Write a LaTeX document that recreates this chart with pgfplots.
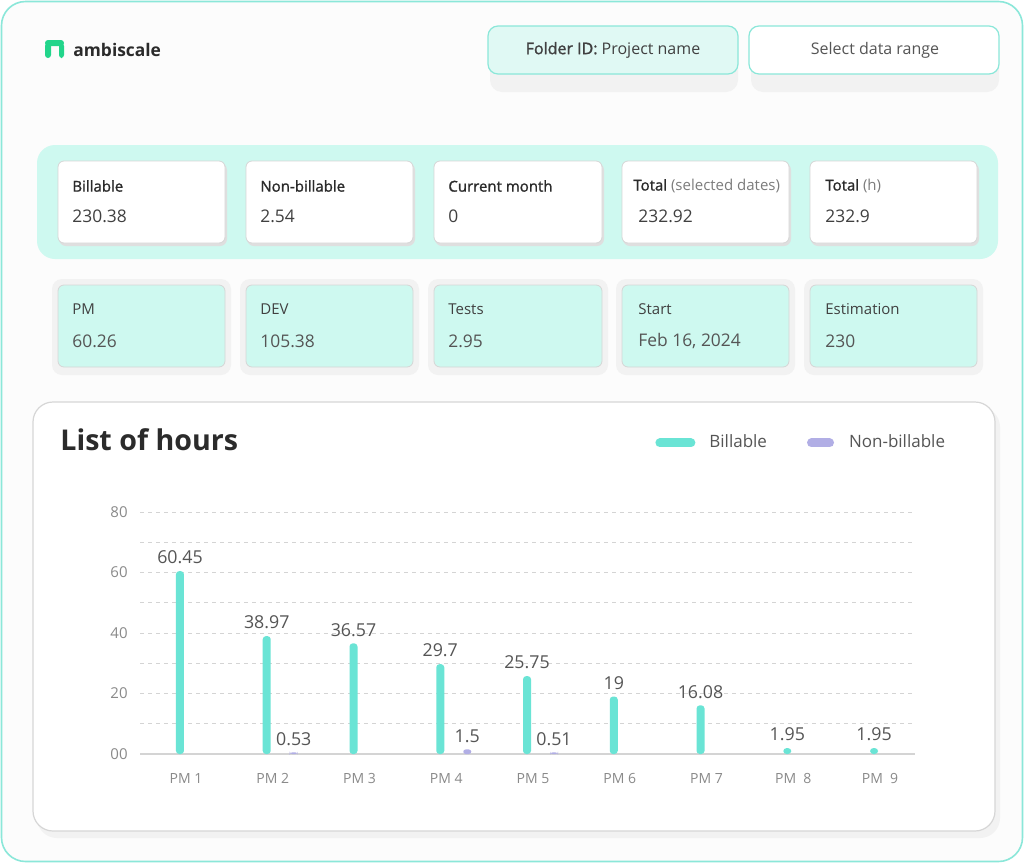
\documentclass[border=0pt]{standalone}
\usepackage{fontspec}
\setmainfont{Open Sans}
\newfontfamily\semib{Open Sans}[FakeBold=1.3]
\usepackage{pgfplots}
\pgfplotsset{compat=1.18}

\definecolor{barTeal}{HTML}{6AE4D5}
\definecolor{barLav}{HTML}{B1AEE5}
\definecolor{mint}{HTML}{CEF9F0}
\definecolor{btnMint}{HTML}{E0F9F4}
\definecolor{frameTeal}{HTML}{8BE7D9}
\definecolor{logoGreen}{HTML}{22D58B}
\definecolor{ink}{HTML}{2B2B2B}
\definecolor{ink2}{HTML}{404040}
\definecolor{ink3}{HTML}{555555}
\definecolor{tickGray}{HTML}{8A8A8A}
\definecolor{cardLine}{HTML}{D6D6D6}
\definecolor{shadowGray}{HTML}{F2F2F2}
\definecolor{gridGray}{HTML}{D4D4D4}

\newcommand\fs[1]{\fontsize{#1}{#1}\selectfont}

% white card of the first row: x1, x2, label x, value x, label, value
\newcommand\topcard[6]{%
  \fill[shadowGray!80!gray!90, rounded corners=3.5pt] (#1+1,163) rectangle (#2+2,246);
  \draw[cardLine, fill=white, line width=0.4pt, rounded corners=3pt] (#1,161) rectangle (#2,243);
  \node[anchor=west, inner sep=0pt, text=ink, font=\fs{7.5}] at (#3,186) {#5};
  \node[anchor=west, inner sep=0pt, text=ink2, font=\fs{8.7}] at (#4,216) {#6};
}
% mint card of the second row
\newcommand\lowcard[6]{%
  \fill[shadowGray, rounded corners=5pt] (#1-6,279) rectangle (#2+6,375);
  \draw[cardLine, fill=mint, line width=0.4pt, rounded corners=3pt] (#1,285) rectangle (#2,367);
  \node[anchor=west, inner sep=0pt, text=ink2, font=\fs{7.5}] at (#3,309) {#5};
  \node[anchor=west, inner sep=0pt, text=ink3, font=\fs{8.7}] at (#4,341) {#6};
}

\begin{document}
\begin{tikzpicture}
\path[use as bounding box] (0pt,0pt) rectangle (512pt,-431.5pt);
\begin{scope}[x=0.5pt,y=-0.5pt]
  \fill[white] (0,0) rectangle (1024,863);
  \draw[frameTeal, line width=0.8pt, fill=white!98!gray, rounded corners=12pt] (1.5,1.5) rectangle (1022.5,861.5);

  % logo
  \fill[logoGreen, rounded corners=1.5pt] (45,43) rectangle (51,58);
  \fill[logoGreen, rounded corners=1.5pt] (45,40) rectangle (64,46);
  \fill[logoGreen, rounded corners=1.5pt] (59,43) rectangle (64,58);
  \node[anchor=west, inner sep=0pt, font=\fs{8.7}\bfseries, text=ink] at (73,50) {ambiscale};

  % header buttons
  \fill[shadowGray, rounded corners=6pt] (490,36) rectangle (738,92);
  \draw[frameTeal, fill=btnMint, line width=0.6pt, rounded corners=5pt] (488,26) rectangle (738,74);
  \node[font=\fs{8}, text=ink2] at (613,50) {{\semib Folder ID:} Project name};
  \fill[shadowGray, rounded corners=6pt] (751,36) rectangle (999,92);
  \draw[frameTeal, fill=white, line width=0.6pt, rounded corners=5pt] (749,26) rectangle (999,74);
  \node[font=\fs{8}, text=ink3] at (875,50) {Select data range};

  % first row
  \fill[mint, rounded corners=9pt] (37,145) rectangle (998,259);
  \topcard{58}{225}{72}{72}{\semib Billable}{230.38}
  \topcard{246}{413}{260}{260}{\semib Non-billable}{2.54}
  \topcard{434}{602}{448}{448}{\semib Current month}{0}
  \topcard{622}{789}{633}{638}{{\semib Total} {\color{tickGray!90!black}(selected dates)}}{232.92}
  \topcard{810}{977}{825}{825}{{\semib Total} {\color{tickGray!90!black}(h)}}{232.9}

  % second row
  \lowcard{58}{225}{72}{72}{PM}{60.26}
  \lowcard{246}{413}{260}{260}{DEV}{105.38}
  \lowcard{434}{602}{448}{448}{Tests}{2.95}
  \lowcard{622}{789}{638}{638}{Start}{Feb 16, 2024}
  \lowcard{810}{977}{825}{825}{Estimation}{230}

  % chart card
  \fill[shadowGray, rounded corners=10pt] (37,407) rectangle (1000,838);
  \draw[cardLine, fill=white, line width=0.6pt, rounded corners=10pt] (33,402) rectangle (995,831);
  \node[anchor=west, inner sep=0pt, font=\fs{14.3}\bfseries, text=ink] at (60,440) {List of hours};
\end{scope}

\begin{axis}[
  at={(70pt,-377pt)}, anchor=south west,
  scale only axis, width=387.5pt, height=121pt,
  xmin=0.47, xmax=9.403, ymin=0, ymax=80,
  clip=false,
  axis x line*=bottom, axis y line*=left,
  y axis line style={draw=none},
  x axis line style={draw=gridGray, line width=0.6pt},
  major tick length=0pt, minor tick length=0pt,
  xtick={1,...,9},
  xticklabels={PM 1,PM 2,PM 3,PM 4,PM 5,PM 6,PM 7,PM\ \ 8,PM\ \ 9},
  ytick={0,20,40,60,80}, yticklabels={00,20,40,60,80},
  minor ytick={10,30,50,70},
  ymajorgrids, yminorgrids,
  major grid style={gridGray, line width=0.5pt, dash pattern=on 2pt off 2pt},
  minor grid style={gridGray, line width=0.5pt, dash pattern=on 2pt off 2pt},
  xticklabel style={font=\fs{7}, text=tickGray, anchor=base, inner sep=0pt, yshift=-14.5pt},
  yticklabel style={font=\fs{7.5}, text=tickGray, anchor=east, inner sep=0pt, xshift=-6pt},
  point meta=explicit symbolic,
  nodes near coords,
  every node near coord/.append style={font=\fs{8.9}, text=ink3, inner sep=0pt, anchor=south, yshift=3.3pt},
  legend style={at={(rel axis cs:0.6645,1.2852)}, anchor=west, draw=none, fill=none,
    font=\fs{8.5}, text=ink3, inner sep=0pt, nodes={inner sep=0pt},
    /tikz/every even column/.append style={column sep=20pt}},
  legend columns=2,
]
\addplot[ybar, bar width=4pt, bar shift=-3pt, fill=barTeal, draw=none, rounded corners=1.6pt,
  every node near coord/.append style={xshift=-3pt},
  legend image code/.code={
    \draw[barTeal, line width=4.5pt, line cap=round] (2.25pt,0pt) -- (17.75pt,0pt);
    \path[draw=none, fill=none] (0pt,-1pt) rectangle (27pt,1pt);}]
  coordinates {(1,60.45)[60.45] (2,38.97)[38.97] (3,36.57)[36.57] (4,29.7)[29.7]
    (5,25.75)[25.75] (6,19)[19] (7,16.08)[16.08] (8,1.95)[1.95] (9,1.95)[1.95]};
\addlegendentry{Billable}
\addplot[ybar, bar width=4pt, bar shift=10.5pt, fill=barLav, draw=none, rounded corners=1.2pt,
  every node near coord/.append style={xshift=10.5pt},
  legend image code/.code={
    \draw[barLav, line width=4.5pt, line cap=round] (2.25pt,0pt) -- (11.25pt,0pt);
    \path[draw=none, fill=none] (0pt,-1pt) rectangle (21pt,1pt);}]
  coordinates {(2,0.53)[0.53] (4,1.5)[1.5] (5,0.51)[0.51]};
\addlegendentry{Non-billable}
\end{axis}
\end{tikzpicture}
\end{document}
